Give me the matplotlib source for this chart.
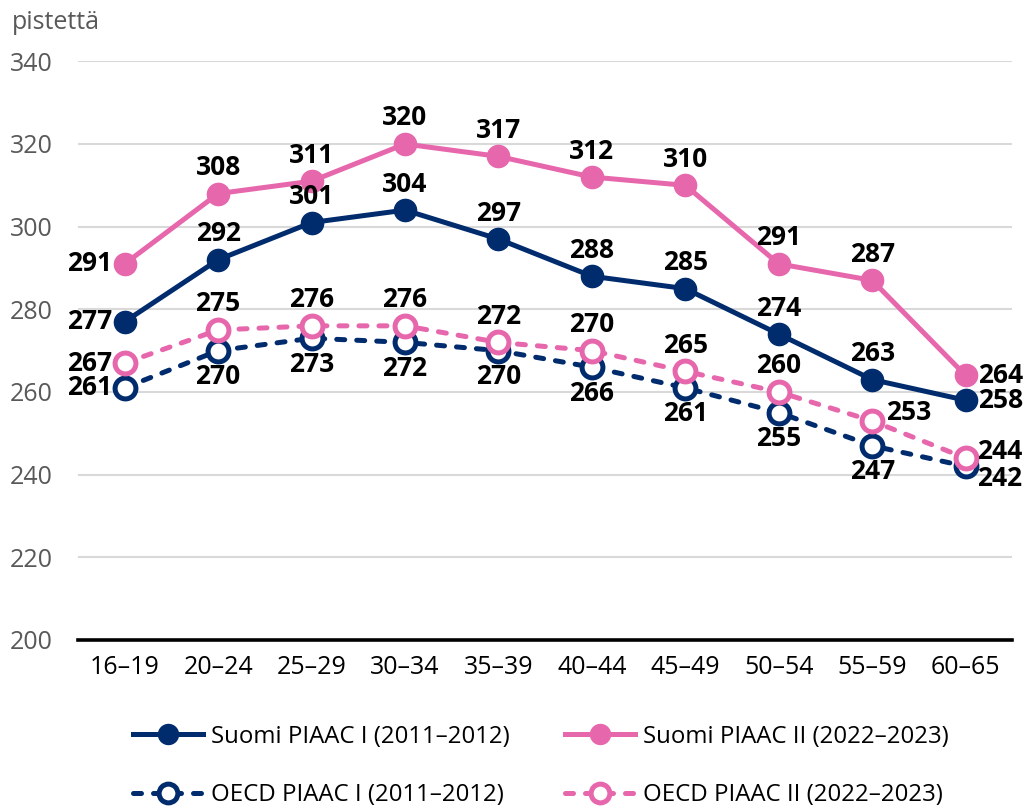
import matplotlib
matplotlib.use('Agg')
import matplotlib.pyplot as plt
import matplotlib.ticker as ticker

plt.rcParams['font.family'] = ['Open Sans', 'DejaVu Sans']

##==============================================
# data
##==============================================
ages = ['16–19', '20–24', '25–29', '30–34', '35–39', '40–44', '45–49', '50–54', '55–59', '60–65']
suomi1 = [277, 292, 301, 304, 297, 288, 285, 274, 263, 258]
suomi2 = [291, 308, 311, 320, 317, 312, 310, 291, 287, 264]
oecd1 = [261, 270, 273, 272, 270, 266, 261, 255, 247, 242]
oecd2 = [267, 275, 276, 276, 272, 270, 265, 260, 253, 244]

navy = '#002c6e'
pink = '#e767ac'

fig = plt.figure(figsize=(10.29, 8.07), dpi=100)
ax = fig.add_axes([0.0758, 0.207, 0.908, 0.717])

x = list(range(len(ages)))
dash = (0, (1.6, 2.4))
l1, = ax.plot(x, suomi1, color=navy, lw=3.6, marker='o', ms=16, zorder=4,
              label='Suomi PIAAC I (2011–2012)')
l2, = ax.plot(x, suomi2, color=pink, lw=3.6, marker='o', ms=16, zorder=4,
              label='Suomi PIAAC II (2022–2023)')
l3, = ax.plot(x, oecd1, color=navy, lw=3.6, ls=dash, dash_capstyle='round', marker='o', ms=15,
              mfc='white', mec=navy, mew=3.6, zorder=3,
              label='OECD PIAAC I (2011–2012)')
l4, = ax.plot(x, oecd2, color=pink, lw=3.6, ls=dash, dash_capstyle='round', marker='o', ms=15,
              mfc='white', mec=pink, mew=3.6, zorder=3,
              label='OECD PIAAC II (2022–2023)')

# where each value label goes: a=above, b=below, l=left, r=right
pos = {
    'suomi1': ['l', 'a', 'a', 'a', 'a', 'a', 'a', 'a', 'a', 'r'],
    'suomi2': ['l', 'a', 'a', 'a', 'a', 'a', 'a', 'a', 'a', 'r'],
    'oecd1': ['l', 'b', 'b', 'b', 'b', 'b', 'b', 'b', 'b', 'rb'],
    'oecd2': ['l', 'a', 'a', 'a', 'a', 'a', 'a', 'a', 'ra', 'rt'],
}
offs = {
    'a': ((0, 9), 'center', 'bottom'),
    'b': ((0, -9), 'center', 'top'),
    'l': ((-9, 0), 'right', 'center'),
    'r': ((9, 0), 'left', 'center'),
    'ra': ((10, 6), 'left', 'center'),
    'rt': ((8, 5), 'left', 'center'),
    'rb': ((8, -9), 'left', 'center'),
}
series = {'suomi1': suomi1, 'suomi2': suomi2, 'oecd1': oecd1, 'oecd2': oecd2}
for key, vals in series.items():
    for i, v in enumerate(vals):
        off, ha, va = offs[pos[key][i]]
        ax.annotate(str(v), (i, v), xytext=off, textcoords='offset points',
                    ha=ha, va=va, fontsize=19, fontweight='bold', color='black', zorder=6)

ax.set_xlim(-0.5, len(ages) - 0.5)
ax.set_ylim(200, 340)
ax.yaxis.set_major_locator(ticker.MultipleLocator(20))
ax.set_xticks(x)
ax.set_xticklabels(ages)
ax.grid(axis='y', color='#d9d9d9', lw=1.5)
ax.set_axisbelow(True)
for s in ['top', 'right', 'left']:
    ax.spines[s].set_visible(False)
ax.spines['bottom'].set_color('black')
ax.spines['bottom'].set_linewidth(2.6)
ax.spines['bottom'].set_zorder(5)
ax.tick_params(axis='both', length=0)
ax.tick_params(axis='y', labelsize=18, labelcolor='#595959', pad=18)
ax.tick_params(axis='x', labelsize=18, labelcolor='black', pad=11)

fig.text(0.012, 0.972, 'pistettä', fontsize=18, color='#595959', va='center', ha='left')

fig.legend(handles=[l1, l3, l2, l4], loc='upper left', bbox_to_anchor=(0.113, 0.123),
           ncol=2, frameon=False, fontsize=17.3, handlelength=2.9, handletextpad=0.35,
           columnspacing=2.3, labelspacing=1.45, borderpad=0.2, markerscale=0.9)

plt.savefig('out.png', dpi=100)
